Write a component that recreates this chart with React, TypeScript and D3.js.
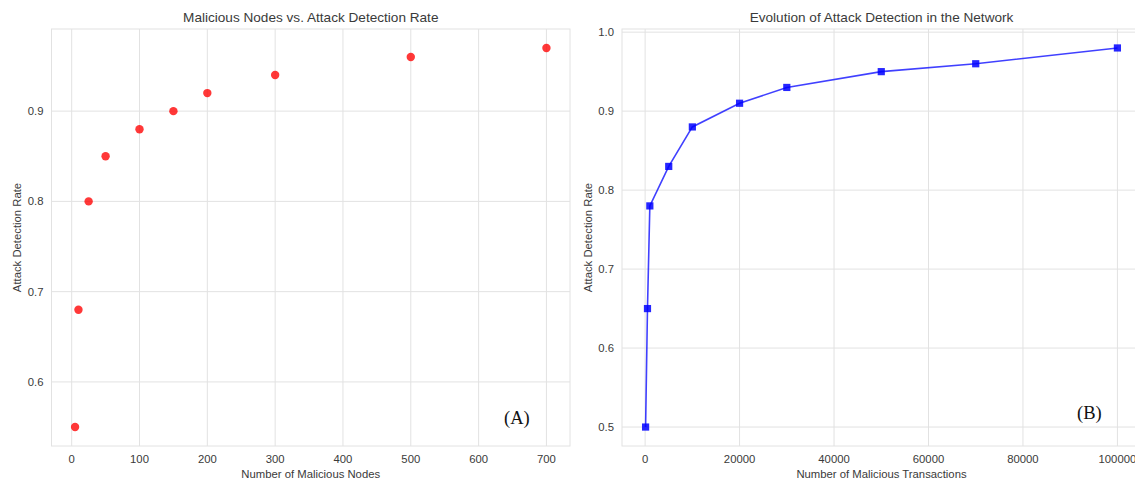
import React from "react";
import * as d3 from "d3";

// left panel: malicious nodes vs detection rate
const nodeCounts = [5, 10, 25, 50, 100, 150, 200, 300, 500, 700];
const nodeRates = [0.55, 0.68, 0.8, 0.85, 0.88, 0.9, 0.92, 0.94, 0.96, 0.97];
const nodeTicks = [0, 100, 200, 300, 400, 500, 600, 700];
const nodeYTicks = [0.6, 0.7, 0.8, 0.9];

// right panel: malicious transactions vs detection rate
const txCounts = [100, 500, 1000, 5000, 10000, 20000, 30000, 50000, 70000, 100000];
const txRates = [0.5, 0.65, 0.78, 0.83, 0.88, 0.91, 0.93, 0.95, 0.96, 0.98];
const txTicks = [0, 20000, 40000, 60000, 80000, 100000];
const txYTicks = [0.5, 0.6, 0.7, 0.8, 0.9, 1.0];

const W = 1135;
const H = 481;
const GRID = "#e2e2e2";
const TXT = "#3a3a3a";
const FONT = "'Liberation Sans', Arial, sans-serif";
const TICK_SIZE = 11.3;
const TITLE_SIZE = 13.6;

// matplotlib style 5% padding on data extents
const padded = (vals: number[]) => {
  const [lo, hi] = d3.extent(vals) as [number, number];
  const m = (hi - lo) * 0.05;
  return [lo - m, hi + m];
};

interface PanelProps {
  left: number;
  right: number;
  top: number;
  bottom: number;
  xs: number[];
  ys: number[];
  xTicks: number[];
  yTicks: number[];
  title: string;
  xLabel: string;
  yLabel: string;
  kind: "scatter" | "line";
  clipId: string;
}

const Panel: React.FC<PanelProps> = ({
  left,
  right,
  top,
  bottom,
  xs,
  ys,
  xTicks,
  yTicks,
  title,
  xLabel,
  yLabel,
  kind,
  clipId,
}) => {
  const x = d3.scaleLinear().domain(padded(xs)).range([left, right]);
  const y = d3.scaleLinear().domain(padded(ys)).range([bottom, top]);
  const pts = xs.map((v, i) => [v, ys[i]] as [number, number]);
  const line = d3
    .line<[number, number]>()
    .x((d) => x(d[0]))
    .y((d) => y(d[1]));
  const cx = (left + right) / 2;
  const cy = (top + bottom) / 2;

  return (
    <g fontFamily={FONT}>
      <clipPath id={clipId}>
        <rect x={left} y={top} width={right - left} height={bottom - top} />
      </clipPath>
      <rect
        x={left}
        y={top}
        width={right - left}
        height={bottom - top}
        fill="white"
        stroke={GRID}
        strokeWidth={1}
      />
      {xTicks.map((t) => (
        <g key={"x" + t}>
          <line x1={x(t)} x2={x(t)} y1={top} y2={bottom} stroke={GRID} strokeWidth={1} />
          <text x={x(t)} y={463} textAnchor="middle" fontSize={TICK_SIZE} fill={TXT}>
            {t}
          </text>
        </g>
      ))}
      {yTicks.map((t) => (
        <g key={"y" + t}>
          <line x1={left} x2={right} y1={y(t)} y2={y(t)} stroke={GRID} strokeWidth={1} />
          <text
            x={left - 8}
            y={y(t)}
            dy="0.35em"
            textAnchor="end"
            fontSize={TICK_SIZE}
            fill={TXT}
          >
            {t.toFixed(1)}
          </text>
        </g>
      ))}
      <text x={cx} y={22} textAnchor="middle" fontSize={TITLE_SIZE} fill={TXT}>
        {title}
      </text>
      <text x={cx} y={478} textAnchor="middle" fontSize={TICK_SIZE} fill={TXT}>
        {xLabel}
      </text>
      <text
        transform={`translate(${left - 34},${cy}) rotate(-90)`}
        textAnchor="middle"
        dy="0.35em"
        fontSize={TICK_SIZE}
        fill={TXT}
      >
        {yLabel}
      </text>
      <g clipPath={`url(#${clipId})`}>
        {kind === "scatter" &&
          pts.map((d, i) => (
            <circle
              key={i}
              cx={x(d[0])}
              cy={y(d[1])}
              r={4.2}
              fill="red"
              fillOpacity={0.78}
            />
          ))}
        {kind === "line" && (
          <>
            <path
              d={line(pts) || ""}
              fill="none"
              stroke="blue"
              strokeOpacity={0.75}
              strokeWidth={1.6}
            />
            {pts.map((d, i) => (
              <rect
                key={i}
                x={x(d[0]) - 3.6}
                y={y(d[1]) - 3.6}
                width={7.2}
                height={7.2}
                fill="blue"
                fillOpacity={0.85}
              />
            ))}
          </>
        )}
      </g>
    </g>
  );
};

export default function App() {
  return (
    <svg
      width={W}
      height={H}
      style={{ position: "absolute", left: 0, top: 0, background: "white" }}
    >
      <rect width={W} height={H} fill="white" />
      <Panel
        left={51.5}
        right={570}
        top={29}
        bottom={446}
        xs={nodeCounts}
        ys={nodeRates}
        xTicks={nodeTicks}
        yTicks={nodeYTicks}
        title="Malicious Nodes vs. Attack Detection Rate"
        xLabel="Number of Malicious Nodes"
        yLabel="Attack Detection Rate"
        kind="scatter"
        clipId="clipA"
      />
      <Panel
        left={622}
        right={1141}
        top={29}
        bottom={446}
        xs={txCounts}
        ys={txRates}
        xTicks={txTicks}
        yTicks={txYTicks}
        title="Evolution of Attack Detection in the Network"
        xLabel="Number of Malicious Transactions"
        yLabel="Attack Detection Rate"
        kind="line"
        clipId="clipB"
      />
      <text x={504} y={424} fontFamily="'Liberation Serif', 'Times New Roman', serif" fontSize={18.5} fill="#111">
        (A)
      </text>
      <text x={1077} y={419} fontFamily="'Liberation Serif', 'Times New Roman', serif" fontSize={18.5} fill="#111">
        (B)
      </text>
    </svg>
  );
}
